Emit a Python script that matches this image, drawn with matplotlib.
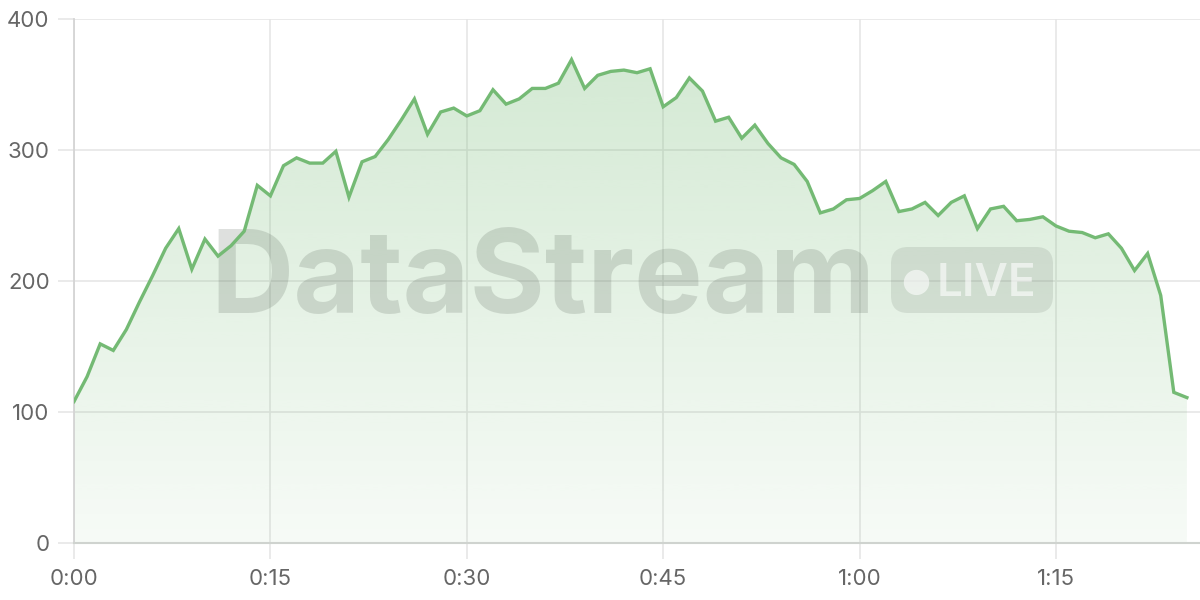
import matplotlib
matplotlib.use("Agg")
import matplotlib.pyplot as plt
import numpy as np
from matplotlib.patches import FancyBboxPatch
from matplotlib.transforms import IdentityTransform

# ---- data (one value per minute) ----
minutes = list(range(0, 86))
values = [108, 127, 152, 147, 163, 184, 204, 225, 240, 209,
          232, 219, 227, 238, 273, 265, 288, 294, 290, 290,
          299, 264, 291, 295, 308, 323, 339, 312, 329, 332,
          326, 330, 346, 335, 339, 347, 347, 351, 369, 347,
          357, 360, 361, 359, 362, 333, 340, 355, 345, 322,
          325, 309, 319, 305, 294, 289, 276, 252, 255, 262,
          263, 269, 276, 253, 255, 260, 250, 260, 265, 240,
          255, 257, 246, 247, 249, 242, 238, 237, 233, 236,
          225, 208, 221, 189, 115, 111]
xtick_vals = [0, 15, 30, 45, 60, 75]
xtick_labels = ["0:00", "0:15", "0:30", "0:45", "1:00", "1:15"]
ytick_vals = [0, 100, 200, 300, 400]
ytick_labels = ["0", "100", "200", "300", "400"]

LINE = "#74ba74"
GRID = "#e6e6e6"
TEXT = "#666666"

plt.rcParams['font.family'] = ['Inter', 'DejaVu Sans']

fig = plt.figure(figsize=(12, 6), dpi=100)
ax = fig.add_axes([74/1200, 57/600, 1126/1200, 524/600])

x = np.array(minutes)
y = np.array(values)

# gradient fill clipped to the area under the line
poly = ax.fill_between(x, y, 0, color="none", lw=0)
ymax_fill = 400
grad = np.linspace(0.06, 0.33, 256).reshape(-1, 1)
rgba = np.zeros((256, 1, 4))
c = matplotlib.colors.to_rgb(LINE)
rgba[..., 0] = c[0]; rgba[..., 1] = c[1]; rgba[..., 2] = c[2]
rgba[..., 3] = grad
im = ax.imshow(rgba, extent=[x.min(), x.max(), 0, ymax_fill], origin="lower",
               aspect="auto", zorder=1, interpolation="bilinear")
im.set_clip_path(poly.get_paths()[0], transform=ax.transData)

ax.plot(x, y, color=LINE, lw=2.4, zorder=3, solid_joinstyle="miter")

ax.set_xlim(0, 86)
ax.set_ylim(0, 400)
ax.set_xticks(xtick_vals, xtick_labels)
ax.set_yticks(ytick_vals, ytick_labels)
ax.grid(True, color=GRID, lw=1.2, zorder=0)
ax.set_axisbelow(True)
ax.tick_params(axis="both", length=11.5, width=1.2, color=GRID,
               labelsize=16, labelcolor=TEXT)
ax.tick_params(axis="y", pad=6)
ax.tick_params(axis="x", pad=7)
for s in ["top", "right"]:
    ax.spines[s].set_visible(False)
ax.spines["left"].set_color("#d4d4d4")
ax.spines["left"].set_linewidth(1.3)
ax.spines["bottom"].set_color("#cfd3cf")
ax.spines["bottom"].set_linewidth(1.5)

# ---- watermark ----
ax.text((210-74)/1126, (543-313)/524, "DataStream", transform=ax.transAxes,
        fontsize=83, fontweight="bold", color="#3f4a3f", alpha=0.17,
        ha="left", va="baseline", zorder=2)
pill = FancyBboxPatch((891, 600-313), 162, 66,
                      boxstyle="round,pad=0,rounding_size=17",
                      transform=IdentityTransform(), fc="#3f4a3f", ec="none",
                      alpha=0.12, zorder=2)
fig.patches.append(pill)
fig.text(916/1200, (600-281)/600, "\u25cf", color="white", alpha=0.6,
         fontsize=24, ha="center", va="center", family=["DejaVu Sans"])
fig.text(937/1200, (600-296)/600, "LIVE", color="white", alpha=0.6,
         fontsize=33, fontweight="semibold", ha="left", va="baseline")

fig.savefig("out.png", dpi=100)
